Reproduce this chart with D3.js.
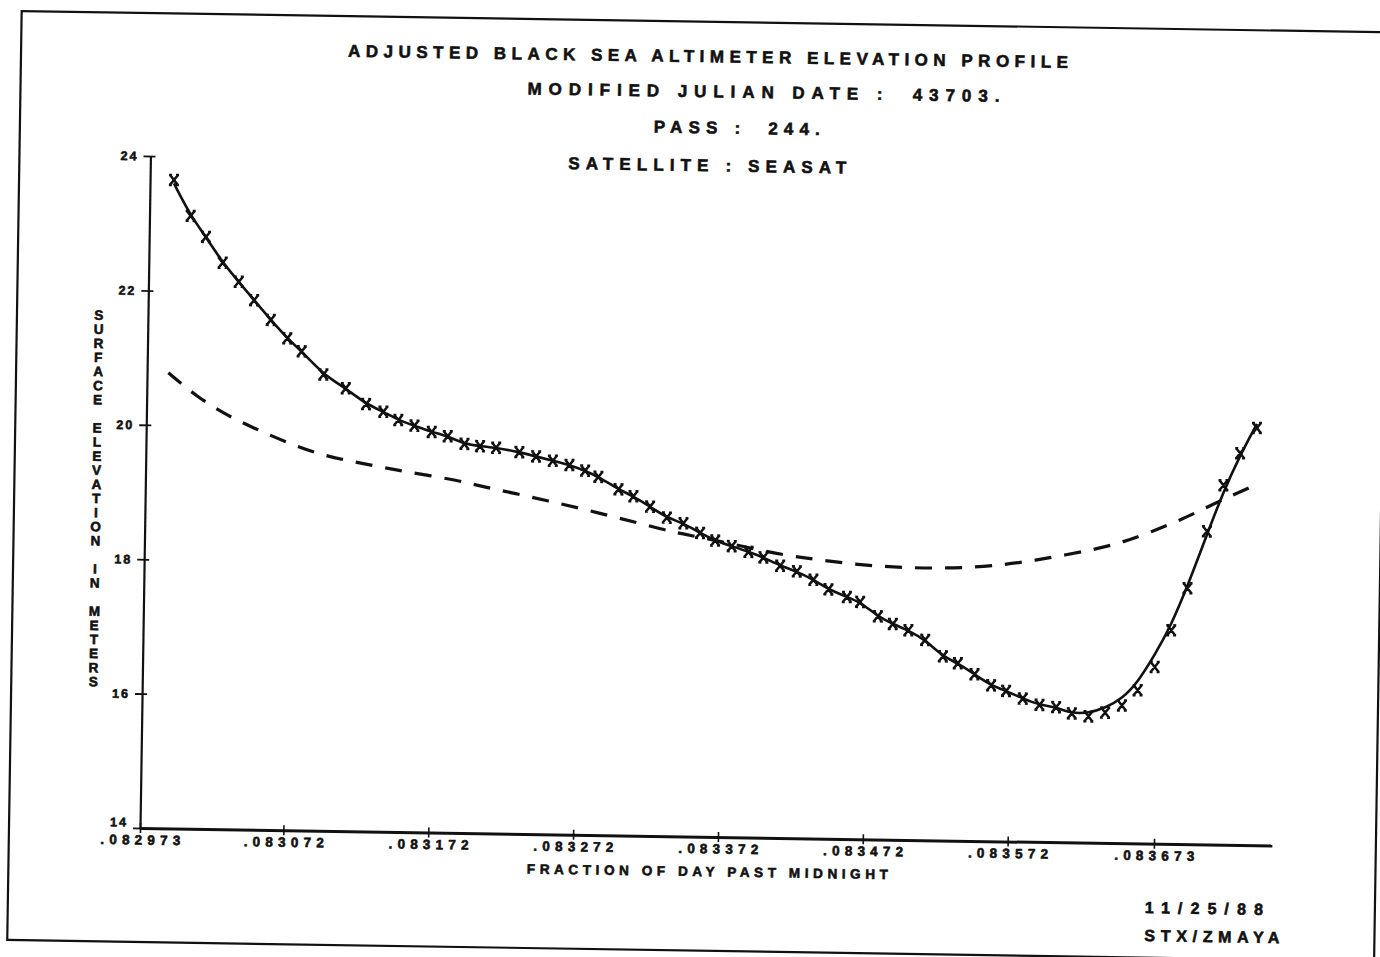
<!DOCTYPE html>
<html>
<head>
<meta charset="utf-8">
<script src="https://cdn.jsdelivr.net/npm/d3@7"></script>
<style>
  html, body { margin: 0; padding: 0; background: #fff; }
  svg { display: block; }
  text { font-family: "Liberation Sans", Arial, sans-serif; font-weight: bold; fill: #111; stroke: #111; stroke-width: 0.6px; white-space: pre; }
</style>
</head>
<body>
<div id="chart"></div>
<script>
// Black Sea altimeter profile, Seasat pass 244 (scanned plot, ~0.9 deg skew)

// observed points (x markers)
const timeFrac = [
  0.0829895, 0.0830014, 0.0830122, 0.0830240, 0.0830353, 0.0830461, 0.0830578, 0.0830694,
  0.0830795, 0.0830947, 0.0831103, 0.0831245, 0.0831365, 0.0831469, 0.0831581, 0.0831701,
  0.0831812, 0.0831928, 0.0832036, 0.0832147, 0.0832308, 0.0832424, 0.0832540, 0.0832655,
  0.0832764, 0.0832856, 0.0832996, 0.0833100, 0.0833216, 0.0833333, 0.0833448, 0.0833564,
  0.0833669, 0.0833784, 0.0833900, 0.0834004, 0.0834120, 0.0834236, 0.0834351, 0.0834456,
  0.0834584, 0.0834676, 0.0834800, 0.0834904, 0.0835012, 0.0835129, 0.0835253, 0.0835357,
  0.0835473, 0.0835589, 0.0835693, 0.0835809, 0.0835925, 0.0836040, 0.0836149, 0.0836264,
  0.0836379, 0.0836494, 0.0836601, 0.0836716, 0.0836826, 0.0836934, 0.0837062, 0.0837171,
  0.0837283, 0.0837396
];
const elevObs = [
  23.65, 23.12, 22.81, 22.43, 22.15, 21.88, 21.59, 21.32,
  21.13, 20.79, 20.59, 20.36, 20.25, 20.13, 20.05, 19.96,
  19.90, 19.79, 19.76, 19.74, 19.68, 19.62, 19.56, 19.50,
  19.42, 19.33, 19.15, 19.05, 18.90, 18.74, 18.66, 18.52,
  18.41, 18.33, 18.25, 18.17, 18.05, 17.97, 17.85, 17.71,
  17.60, 17.53, 17.32, 17.21, 17.12, 16.98, 16.74, 16.64,
  16.48, 16.32, 16.24, 16.13, 16.04, 16.01, 15.92, 15.88,
  15.94, 16.05, 16.28, 16.63, 17.18, 17.81, 18.66, 19.35,
  19.83, 20.21
];
// adjusted profile (solid line), same times
const elevFit = [
  23.60, 23.12, 22.81, 22.43, 22.15, 21.88, 21.59, 21.32,
  21.13, 20.79, 20.59, 20.36, 20.25, 20.13, 20.05, 19.96,
  19.90, 19.79, 19.76, 19.74, 19.68, 19.62, 19.56, 19.50,
  19.42, 19.33, 19.15, 19.05, 18.90, 18.74, 18.66, 18.52,
  18.41, 18.33, 18.25, 18.17, 18.05, 17.97, 17.85, 17.71,
  17.60, 17.53, 17.32, 17.21, 17.12, 16.98, 16.74, 16.64,
  16.48, 16.32, 16.24, 16.13, 16.04, 16.01, 15.92, 15.93,
  16.01, 16.15, 16.40, 16.81, 17.26, 17.84, 18.61, 19.25,
  19.80, 20.27
];
// reference surface (dashed line)
const dashTime = [
  0.0829877, 0.0830075, 0.0830293, 0.0830502, 0.0830724, 0.0830944, 0.0831161, 0.0831395,
  0.0831625, 0.0831879, 0.0832075, 0.0832295, 0.0832514, 0.0832733, 0.0832964, 0.0833184,
  0.0833403, 0.0833599, 0.0834072, 0.0834303, 0.0834534, 0.0834764, 0.0834990, 0.0835225,
  0.0835452, 0.0835673, 0.0835880, 0.0836093, 0.0836299, 0.0836485, 0.0836677, 0.0836876,
  0.0837061, 0.0837219, 0.0837390
];
const dashElev = [
  20.78, 20.43, 20.15, 19.95, 19.75, 19.59, 19.50, 19.41,
  19.33, 19.25, 19.15, 19.06, 18.96, 18.86, 18.74, 18.63,
  18.51, 18.45, 18.23, 18.17, 18.11, 18.07, 18.05, 18.05,
  18.07, 18.12, 18.19, 18.28, 18.37, 18.48, 18.64, 18.82,
  19.02, 19.19, 19.36
];

const xTicks = [0.082973, 0.083072, 0.083172, 0.083272, 0.083372, 0.083472, 0.083572, 0.083673];
const xDomain = [0.082973, 0.0837544];
const yTicks = [14, 16, 18, 20, 22, 24];
const yDomain = [14, 24];

const titleLines = [
  'ADJUSTED BLACK SEA ALTIMETER ELEVATION PROFILE',
  'MODIFIED JULIAN DATE :  43703.',
  'PASS :  244.',
  'SATELLITE : SEASAT'
];
const xLabel = 'FRACTION OF DAY PAST MIDNIGHT';
const yLabel = 'SURFACE ELEVATION IN METERS';
const stampLines = ['11/25/88', 'STX/ZMAYA'];

// layout
const W = 1380, H = 957;
const origin = { x: 140, y: 828 };
const skew = 0.89;
const titlePos = [
  { cx: 696, cy: 48, w: 720 },
  { cx: 752, cy: 83, w: 472 },
  { cx: 726, cy: 119, w: 166 },
  { cx: 697, cy: 157, w: 278 }
];
const ink = '#111';

const svg = d3.select('#chart')
  .append('svg')
  .attr('width', W)
  .attr('height', H);

svg.append('rect').attr('width', W).attr('height', H).attr('fill', '#fff');

const page = svg.append('g')
  .attr('transform', `rotate(${skew},${origin.x},${origin.y})`);

// frame
page.append('rect')
  .attr('x', 9).attr('y', 13)
  .attr('width', 1367).attr('height', 929)
  .attr('fill', 'none')
  .attr('stroke', ink)
  .attr('stroke-width', 2.2);

const x = d3.scaleLinear().domain(xDomain).range([origin.x, 1272]);
const y = d3.scaleLinear().domain(yDomain).range([origin.y, 156]);

// titles
page.selectAll('text.title')
  .data(titleLines)
  .enter().append('text')
  .attr('class', 'title')
  .attr('x', (d, i) => titlePos[i].cx)
  .attr('y', (d, i) => titlePos[i].cy)
  .attr('text-anchor', 'middle')
  .attr('dominant-baseline', 'central')
  .attr('font-size', '17px')
  .attr('textLength', (d, i) => titlePos[i].w)
  .attr('lengthAdjust', 'spacing')
  .text(d => d);

// x axis
const xFmt = v => d3.format('.6f')(v).replace(/^0/, '');
const xAxis = page.append('g')
  .attr('transform', `translate(0,${origin.y})`)
  .call(d3.axisBottom(x).tickValues(xTicks).tickFormat(xFmt).tickSizeInner(5).tickSizeOuter(0).tickPadding(2));
xAxis.select('.domain').attr('stroke', ink).attr('stroke-width', 3);
xAxis.selectAll('.tick line').attr('y1', -5).attr('y2', 5).attr('stroke', ink).attr('stroke-width', 1.6);
xAxis.selectAll('.tick text')
  .attr('fill', ink)
  .attr('font-size', '13.5px')
  .attr('font-family', '"Liberation Sans", Arial, sans-serif')
  .attr('font-weight', 'bold')
  .attr('textLength', 80)
  .attr('lengthAdjust', 'spacing');

// y axis
const yAxis = page.append('g')
  .attr('transform', `translate(${origin.x},0)`)
  .call(d3.axisLeft(y).tickValues(yTicks).tickFormat(d3.format('d')).tickSizeInner(7).tickSizeOuter(0).tickPadding(5));
yAxis.select('.domain').attr('stroke', ink).attr('stroke-width', 2.2);
yAxis.selectAll('.tick line').attr('x1', 5).attr('stroke', ink).attr('stroke-width', 1.8);
yAxis.selectAll('.tick text')
  .attr('fill', ink)
  .attr('font-size', '12.5px')
  .attr('font-family', '"Liberation Sans", Arial, sans-serif')
  .attr('font-weight', 'bold')
  .attr('letter-spacing', '2px');
// lowest label sits just above the first time label
yAxis.selectAll('.tick text').filter(d => d === yDomain[0]).attr('dy', '-0.15em');

// axis titles
page.append('text')
  .attr('x', 708).attr('y', 863)
  .attr('text-anchor', 'middle')
  .attr('dominant-baseline', 'central')
  .attr('font-size', '13.5px')
  .attr('textLength', 361)
  .attr('lengthAdjust', 'spacing')
  .text(xLabel);

page.append('g')
  .selectAll('text')
  .data(yLabel.split(''))
  .enter().append('text')
  .attr('x', 91)
  .attr('y', (d, i) => 316 + i * 14.1)
  .attr('text-anchor', 'middle')
  .attr('dominant-baseline', 'central')
  .attr('font-size', '13.5px')
  .text(d => d);

// dashed reference surface
const dashData = dashTime.map((t, i) => ({ t, e: dashElev[i] }));
page.append('path')
  .datum(dashData)
  .attr('fill', 'none')
  .attr('stroke', ink)
  .attr('stroke-width', 3.2)
  .attr('stroke-dasharray', '17,13')
  .attr('d', d3.line().x(d => x(d.t)).y(d => y(d.e)).curve(d3.curveBasis));

// adjusted profile
const fitData = timeFrac.map((t, i) => ({ t, e: elevFit[i] }));
page.append('path')
  .datum(fitData)
  .attr('fill', 'none')
  .attr('stroke', ink)
  .attr('stroke-width', 2.6)
  .attr('d', d3.line().x(d => x(d.t)).y(d => y(d.e)).curve(d3.curveBasis));

// observations
const obsData = timeFrac.map((t, i) => ({ t, e: elevObs[i] }));
page.append('g')
  .selectAll('path')
  .data(obsData)
  .enter().append('path')
  .attr('transform', d => `translate(${x(d.t)},${y(d.e)})`)
  .attr('d', 'M-4,-5L4,5M4,-5L-4,5M-5,-5L-2,-5M2,-5L5,-5M-5,5L-2,5M2,5L5,5')
  .attr('fill', 'none')
  .attr('stroke', ink)
  .attr('stroke-width', 2.5);

// plot stamp
page.selectAll('text.stamp')
  .data(stampLines)
  .enter().append('text')
  .attr('class', 'stamp')
  .attr('x', 1146)
  .attr('y', (d, i) => 892 + i * 28)
  .attr('dominant-baseline', 'central')
  .attr('font-size', '16px')
  .attr('textLength', (d, i) => [118, 135][i])
  .attr('lengthAdjust', 'spacing')
  .text(d => d);
</script>
</body>
</html>
